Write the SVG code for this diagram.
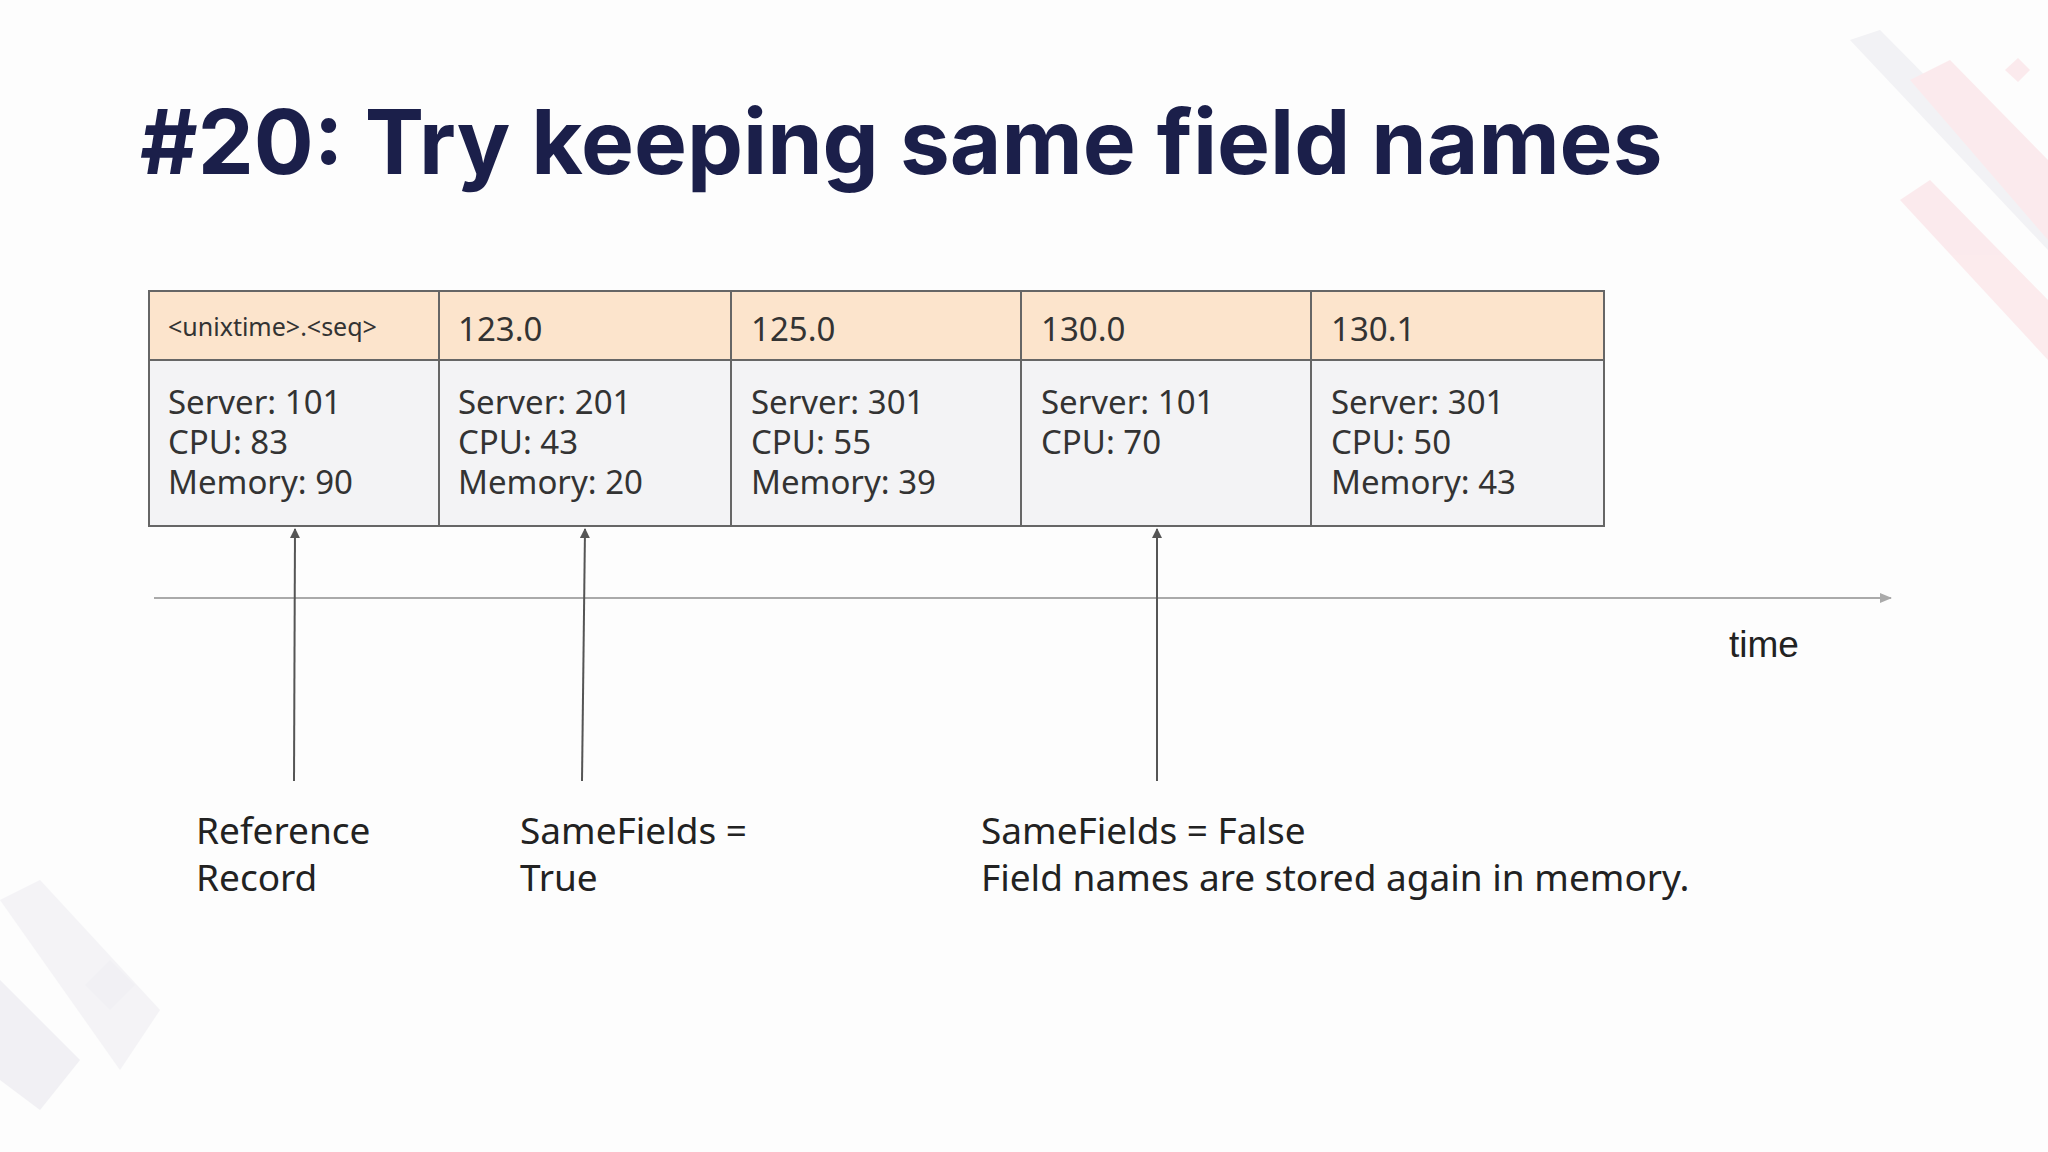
<svg xmlns="http://www.w3.org/2000/svg" width="2048" height="1152" viewBox="0 0 2048 1152">
<defs>
<style>
.h{fill:#fce4cc;stroke:#666;stroke-width:2}
.b{fill:#f3f3f5;stroke:#666;stroke-width:2}
.t{font-family:"Noto Sans","Lato",sans-serif;fill:#333;font-size:33px}
.s{font-size:25px}
.l{font-family:"Noto Sans","Lato",sans-serif;fill:#222;font-size:37px}
.a{stroke:#555;stroke-width:2;fill:none;marker-end:url(#ah)}
</style>
<marker id="ah" markerWidth="10" markerHeight="10" refX="9" refY="5" orient="auto" markerUnits="userSpaceOnUse"><path d="M0,0 L10,5 L0,10 z" fill="#555"/></marker>
<marker id="ag" markerWidth="12" markerHeight="10" refX="11" refY="5" orient="auto" markerUnits="userSpaceOnUse"><path d="M0,0 L12,5 L0,10 z" fill="#aaa"/></marker>
</defs>
<rect width="2048" height="1152" fill="#fdfdfd"/>
<g id="decor" opacity="0.5">
<polygon points="1850,40 1880,30 2048,200 2048,250" fill="#e8e8ee"/>
<polygon points="1910,80 1950,60 2048,160 2048,240" fill="#fbd9de"/>
<polygon points="1900,200 1930,180 2048,300 2048,360" fill="#fbd9de"/>
<polygon points="2005,70 2018,58 2030,70 2018,82" fill="#fbd9de"/>
<polygon points="0,900 40,880 160,1010 120,1070" fill="#ecebf1"/>
<polygon points="0,980 80,1060 40,1110 0,1080" fill="#e6e5ec"/>
<polygon points="85,985 110,960 135,985 110,1010" fill="#e6e5ec"/>
</g>
<text id="title" x="140" y="174" font-family="Inter,'Noto Sans',sans-serif" font-weight="700" font-size="89" fill="#1b1f4a">#20: Try keeping same field names</text>
<g id="connectors">
<line x1="154" y1="598" x2="1891" y2="598" stroke="#aaa" stroke-width="2" marker-end="url(#ag)"/>
<line class="a" x1="294" y1="781" x2="295" y2="529"/>
<line class="a" x1="582" y1="781" x2="585" y2="529"/>
<line class="a" x1="1157" y1="781" x2="1157" y2="529"/>
</g>
<g id="c1"><rect class="h" x="149" y="291" width="290" height="69"/><rect class="b" x="149" y="360" width="290" height="166"/>
<text class="t s" x="168" y="336">&lt;unixtime&gt;.&lt;seq&gt;</text>
<text class="t" x="168" y="414">Server: 101</text><text class="t" x="168" y="454">CPU: 83</text><text class="t" x="168" y="494">Memory: 90</text></g>
<g id="c2"><rect class="h" x="439" y="291" width="292" height="69"/><rect class="b" x="439" y="360" width="292" height="166"/>
<text class="t" x="458" y="341">123.0</text>
<text class="t" x="458" y="414">Server: 201</text><text class="t" x="458" y="454">CPU: 43</text><text class="t" x="458" y="494">Memory: 20</text></g>
<g id="c3"><rect class="h" x="731" y="291" width="290" height="69"/><rect class="b" x="731" y="360" width="290" height="166"/>
<text class="t" x="751" y="341">125.0</text>
<text class="t" x="751" y="414">Server: 301</text><text class="t" x="751" y="454">CPU: 55</text><text class="t" x="751" y="494">Memory: 39</text></g>
<g id="c4"><rect class="h" x="1021" y="291" width="290" height="69"/><rect class="b" x="1021" y="360" width="290" height="166"/>
<text class="t" x="1041" y="341">130.0</text>
<text class="t" x="1041" y="414">Server: 101</text><text class="t" x="1041" y="454">CPU: 70</text></g>
<g id="c5"><rect class="h" x="1311" y="291" width="293" height="69"/><rect class="b" x="1311" y="360" width="293" height="166"/>
<text class="t" x="1331" y="341">130.1</text>
<text class="t" x="1331" y="414">Server: 301</text><text class="t" x="1331" y="454">CPU: 50</text><text class="t" x="1331" y="494">Memory: 43</text></g>
<text id="time" x="1729" y="657" font-family="'Liberation Sans',sans-serif" font-size="37" fill="#222">time</text>
<g id="lab1"><text class="l" x="196" y="844">Reference</text><text class="l" x="196" y="891">Record</text></g>
<g id="lab2"><text class="l" x="520" y="844">SameFields =</text><text class="l" x="520" y="891">True</text></g>
<g id="lab3"><text class="l" x="981" y="844">SameFields = False</text><text class="l" x="981" y="891">Field names are stored again in memory.</text></g>
</svg>
